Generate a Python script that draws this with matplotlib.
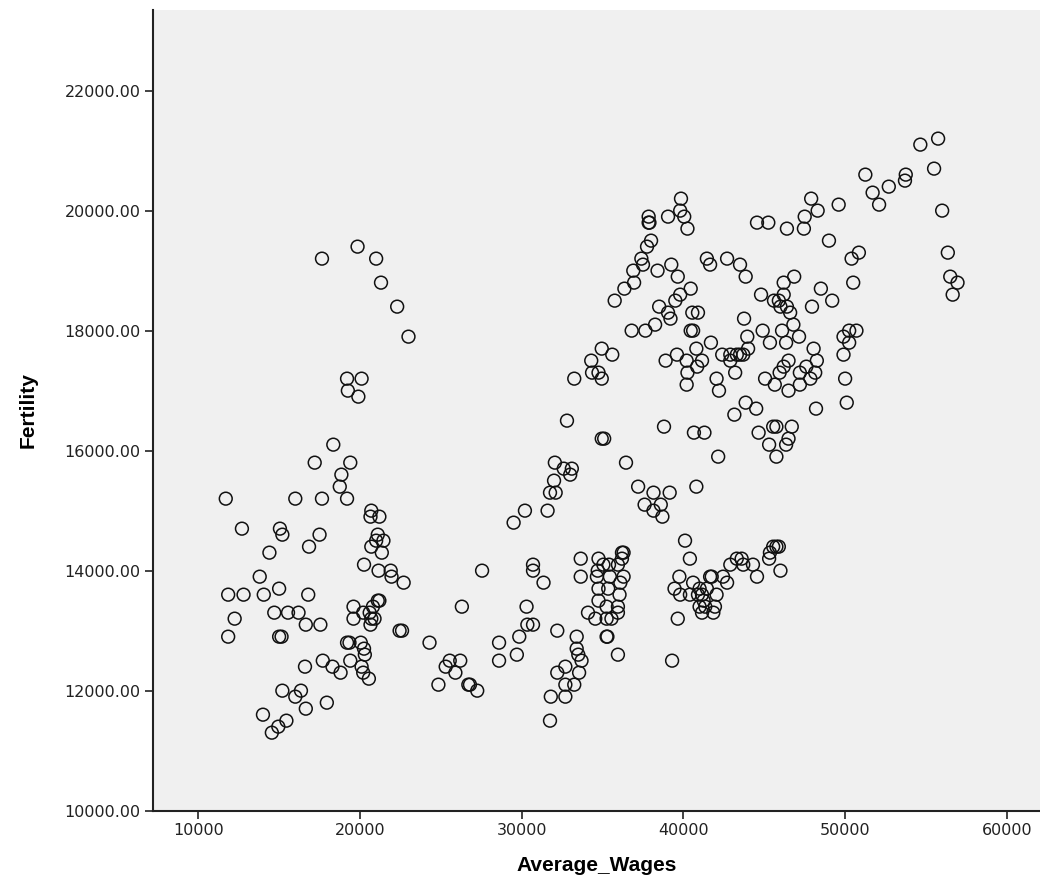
import matplotlib
matplotlib.use("Agg")
import matplotlib.pyplot as plt

# Average_Wages (x) and Fertility (y)
wages = [
    17650, 19850, 21000, 21300, 22300, 23000, 19200, 20100, 19250, 19900,
    18350, 17200, 19400, 18850, 18750, 11700, 16000, 17650, 19200, 20700,
    20650, 21200, 12700, 15050, 15200, 17500, 16850, 21100, 21000, 21450,
    20700, 21350, 14400, 20250, 21150, 21900, 21950, 22700, 13800, 11850,
    12800, 14050, 15000, 16800, 19600, 19600, 20200, 20600, 20800, 21200,
    21100, 20700, 20900, 20650, 14700, 15550, 16200, 16650, 17550, 12250,
    11850, 15000, 15150, 22450, 22600, 24300, 25300, 25550, 24850, 19200,
    19350, 20050, 20250, 20300, 20100, 20200, 20550, 19400, 16600, 17700,
    18300, 18800, 15200, 16350, 16000, 16650, 17950, 14000, 15450, 14950,
    14550,
    26200, 25900, 26700, 26800, 27250, 26300, 27550, 28600, 28600, 29850,
    29700, 30350, 30700, 30300, 30700, 30700, 31350, 32200, 33400, 33400,
    33500, 33700, 33550, 33250, 32700, 32200, 32700, 31800, 32700, 31750,
    29500, 30200, 31600, 31750, 32100, 32000, 32050, 32600, 33100, 33000,
    32800, 33250, 34950, 35100, 36450, 35950, 35250, 35300,
    33650, 33650, 34750, 35050, 36200, 36300, 36200, 35950, 34650, 35450,
    36300, 36100, 34750, 35350, 36050, 34750, 35250, 35950, 34100, 34550,
    35250, 35550, 35950, 34700, 35400,
    39750, 39450, 39800, 40400, 40600, 41000, 41150, 41250, 41350, 41150,
    41450, 41650, 42050, 41950, 41850, 42450, 42700, 42900, 43300, 43600,
    43700, 44300, 44550, 39650, 40400, 40100, 39300, 41000, 40900, 41750,
    45550, 45750, 45350, 45300, 46000, 45900,
    37200, 38150, 39150, 37600, 38150, 38600, 38700, 38800, 40650, 41300,
    42150, 40800,
    39850, 39800, 40050, 40250, 37850, 37900, 37850, 39050, 38000, 37750,
    37400, 37500, 36900, 36950, 36350, 35750, 38400, 39250, 39650, 40450,
    39800, 39500, 38500, 39050, 39200, 40550, 40900, 40450, 40600, 36800,
    37650, 38250, 34950, 35600, 34300, 34350, 34750, 34950, 38900, 39600,
    40200, 40250, 40200, 40800, 41150, 40850, 41700, 42050, 42200, 42400,
    42900, 43300, 43500, 43700, 42900, 43200, 43750, 43950, 43850, 43150,
    41450, 41650, 42700, 43500, 43850,
    55750, 54650, 55500, 51250, 53750, 53700, 52700, 51700, 52100, 56000,
    49600, 47900, 48300, 47500, 47450, 44550, 45250, 46400, 49000, 50850,
    50400, 56350, 50500, 56500, 56950, 56650, 46850, 46200, 48500, 49200,
    47950, 44800, 45600, 45900, 46200, 46000, 46400, 46600, 46800, 44000,
    44900, 46100, 47150, 45350, 46350, 49900, 50250, 50700, 50250, 49900,
    50000, 50100, 48050, 48250, 48150, 48200, 46500, 46200, 45950, 45050,
    45650, 46500, 47200, 47600, 47200, 47850, 44500, 44650, 45550, 45750,
    46700, 45300, 46500, 46350, 45750,
]

fertility = [
    19200, 19400, 19200, 18800, 18400, 17900, 17200, 17200, 17000, 16900,
    16100, 15800, 15800, 15600, 15400, 15200, 15200, 15200, 15200, 15000,
    14900, 14900, 14700, 14700, 14600, 14600, 14400, 14600, 14500, 14500,
    14400, 14300, 14300, 14100, 14000, 14000, 13900, 13800, 13900, 13600,
    13600, 13600, 13700, 13600, 13400, 13200, 13300, 13300, 13400, 13500,
    13500, 13200, 13200, 13100, 13300, 13300, 13300, 13100, 13100, 13200,
    12900, 12900, 12900, 13000, 13000, 12800, 12400, 12500, 12100, 12800,
    12800, 12800, 12700, 12600, 12400, 12300, 12200, 12500, 12400, 12500,
    12400, 12300, 12000, 12000, 11900, 11700, 11800, 11600, 11500, 11400,
    11300,
    12500, 12300, 12100, 12100, 12000, 13400, 14000, 12800, 12500, 12900,
    12600, 13100, 13100, 13400, 14100, 14000, 13800, 13000, 12900, 12700,
    12600, 12500, 12300, 12100, 12400, 12300, 12100, 11900, 11900, 11500,
    14800, 15000, 15000, 15300, 15300, 15500, 15800, 15700, 15700, 15600,
    16500, 17200, 16200, 16200, 15800, 12600, 12900, 12900,
    14200, 13900, 14200, 14100, 14300, 14300, 14200, 14100, 13900, 13900,
    13900, 13800, 13700, 13700, 13600, 13500, 13400, 13400, 13300, 13200,
    13200, 13200, 13300, 14000, 14100,
    13900, 13700, 13600, 13600, 13800, 13700, 13600, 13500, 13400, 13300,
    13700, 13900, 13600, 13400, 13300, 13900, 13800, 14100, 14200, 14200,
    14100, 14100, 13900, 13200, 14200, 14500, 12500, 13400, 13600, 13900,
    14400, 14400, 14300, 14200, 14000, 14400,
    15400, 15300, 15300, 15100, 15000, 15100, 14900, 16400, 16300, 16300,
    15900, 15400,
    20200, 20000, 19900, 19700, 19900, 19800, 19800, 19900, 19500, 19400,
    19200, 19100, 19000, 18800, 18700, 18500, 19000, 19100, 18900, 18700,
    18600, 18500, 18400, 18300, 18200, 18300, 18300, 18000, 18000, 18000,
    18000, 18100, 17700, 17600, 17500, 17300, 17300, 17200, 17500, 17600,
    17500, 17300, 17100, 17700, 17500, 17400, 17800, 17200, 17000, 17600,
    17600, 17600, 17600, 17600, 17500, 17300, 18200, 17900, 16800, 16600,
    19200, 19100, 19200, 19100, 18900,
    21200, 21100, 20700, 20600, 20600, 20500, 20400, 20300, 20100, 20000,
    20100, 20200, 20000, 19900, 19700, 19800, 19800, 19700, 19500, 19300,
    19200, 19300, 18800, 18900, 18800, 18600, 18900, 18800, 18700, 18500,
    18400, 18600, 18500, 18500, 18600, 18400, 18400, 18300, 18100, 17700,
    18000, 18000, 17900, 17800, 17800, 17900, 18000, 18000, 17800, 17600,
    17200, 16800, 17700, 17500, 17300, 16700, 17500, 17400, 17300, 17200,
    17100, 17000, 17100, 17400, 17300, 17200, 16700, 16300, 16400, 16400,
    16400, 16100, 16200, 16100, 15900,
]

x_ticks = [10000, 20000, 30000, 40000, 50000, 60000]
y_ticks = [10000, 12000, 14000, 16000, 18000, 20000, 22000]
x_label = "Average_Wages"
y_label = "Fertility"

fig = plt.figure(figsize=(10.40, 8.94), dpi=100)
ax = fig.add_axes([0.1471, 0.0932, 0.8529, 0.8957])
ax.set_facecolor("#f0f0f0")

ax.scatter(wages, fertility, s=85, facecolors="none", edgecolors="#111111",
           linewidths=1.1, zorder=3)

ax.set_xlim(7200, 62050)
ax.set_ylim(10000, 23345)
ax.set_xticks(x_ticks)
ax.set_yticks(y_ticks)
ax.set_xticklabels([str(v) for v in x_ticks])
ax.set_yticklabels([f"{v:.2f}" for v in y_ticks])

for side in ("top", "right"):
    ax.spines[side].set_visible(False)
for side in ("left", "bottom"):
    ax.spines[side].set_linewidth(1.5)
    ax.spines[side].set_color("#222222")

ax.tick_params(axis="both", direction="out", length=6, width=1.2,
               color="#222222", labelsize=11.5, labelcolor="#222222", pad=3)

label_font = {"family": ["Liberation Sans", "DejaVu Sans"],
              "weight": "bold", "size": 15}
ax.set_xlabel(x_label, fontdict=label_font, labelpad=13)
ax.set_ylabel(y_label, fontdict=label_font, labelpad=19)

fig.savefig("out.png", dpi=100)
